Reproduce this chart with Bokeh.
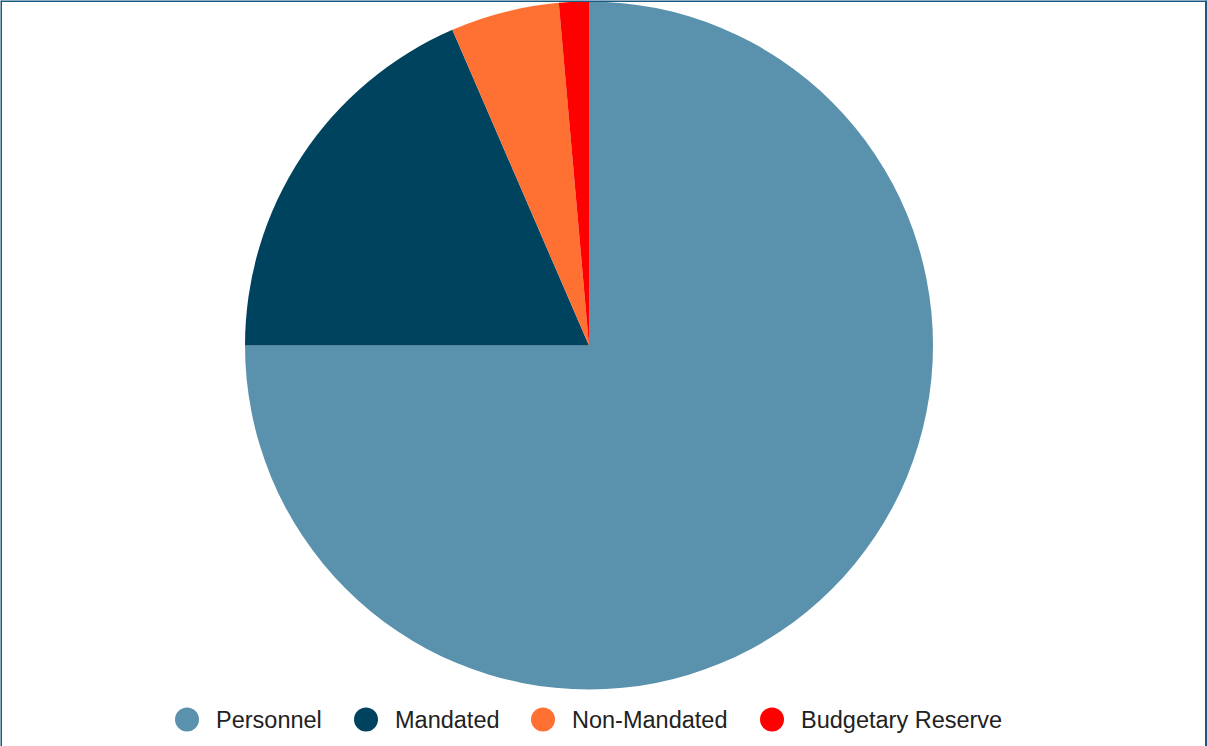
import math
from bokeh.plotting import figure
from bokeh.models import Range1d, ColumnDataSource, Span
from bokeh.core.properties import value
from bokeh.embed import file_html
from bokeh.resources import INLINE

# ---- data ----
categories = ["Personnel", "Mandated", "Non-Mandated", "Budgetary Reserve"]
shares = [75.0, 18.5, 5.1, 1.4]
colors = ["#5a92ae", "#00435f", "#ff7033", "#ff0000"]

# ---- layout constants ----
W, H = 1207, 746
CX, CY = 588.5, H - 345
R = 344
LEG_Y = H - 719
LEG_X = [186.5, 365.5, 542.5, 771.5]
LEG_STANDOFF = 29

total = sum(shares)
starts, ends = [], []
cum = 0.0
for s in shares:
    starts.append(math.pi / 2 - 2 * math.pi * cum / total)
    cum += s
    ends.append(math.pi / 2 - 2 * math.pi * cum / total)

src = ColumnDataSource(dict(cat=categories, share=shares, color=colors,
                            start=starts, end=ends,
                            x=[CX] * len(shares), y=[CY] * len(shares)))

p = figure(width=W, height=H, x_range=Range1d(0, W), y_range=Range1d(0, H),
           output_backend="svg", toolbar_location=None, min_border=0,
           background_fill_color="white", border_fill_color="white")
p.axis.visible = False
p.grid.visible = False
p.outline_line_color = None

p.wedge(x="x", y="y", radius=R, radius_units="data",
        start_angle="start", end_angle="end", direction="clock",
        fill_color="color", line_color=None, source=src)

leg = ColumnDataSource(dict(
    x=LEG_X, tx=[x + LEG_STANDOFF for x in LEG_X], y=[LEG_Y] * len(LEG_X),
    cat=categories, color=colors))
p.scatter(x="x", y="y", size=24, marker="circle", fill_color="color",
          line_color=None, source=leg)
p.text(x="tx", y="y", text="cat", source=leg,
       text_font=value("Liberation Sans"), text_font_size="23.5px",
       text_color="#222222", text_baseline="middle", text_align="left")

border = "#1b5a80"
for loc, dim in [(0.5, "height"), (W - 1.5, "height")]:
    p.add_layout(Span(location=loc, dimension=dim, line_color=border, line_width=2))
p.add_layout(Span(location=H - 0.5, dimension="width", line_color=border, line_width=2))

open("out.html", "w").write(file_html(p, INLINE))
